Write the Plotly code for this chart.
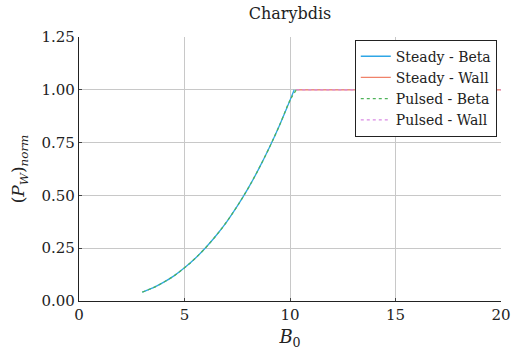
import plotly.graph_objects as go

# Data
beta_B = [3.0, 3.5, 4.0, 4.5, 5.0, 5.5, 6.0, 6.5, 7.0, 7.5, 8.0, 8.5, 9.0, 9.5, 10.0, 10.2]
beta_P = [0.042, 0.062, 0.088, 0.119, 0.157, 0.201, 0.252, 0.310, 0.375, 0.449, 0.531, 0.622, 0.722, 0.831, 0.950, 1.000]
pulsed_beta_B = [3.0, 3.5, 4.0, 4.5, 5.0, 5.5, 6.0, 6.5, 7.0, 7.5, 8.0, 8.5, 9.0, 9.5, 10.0, 10.3]
pulsed_beta_P = [0.042, 0.062, 0.088, 0.119, 0.157, 0.201, 0.252, 0.310, 0.375, 0.449, 0.531, 0.622, 0.722, 0.831, 0.950, 1.000]
wall_B = [10.3, 12.0, 14.0, 16.0, 18.0, 20.0]
wall_P = [1.0, 1.0, 1.0, 1.0, 1.0, 1.0]

x_ticks = [0, 5, 10, 15, 20]
y_ticks = [0.0, 0.25, 0.5, 0.75, 1.0, 1.25]
y_tick_labels = ["0.00", "0.25", "0.50", "0.75", "1.00", "1.25"]

FONT = "DejaVu Serif, Liberation Serif, serif"
TXT = "#222222"

fig = go.Figure()
fig.add_trace(go.Scatter(x=beta_B, y=beta_P, mode="lines", name="Steady - Beta",
                         line=dict(color="#2ea6e6", width=1.3, shape="spline")))
fig.add_trace(go.Scatter(x=wall_B, y=wall_P, mode="lines", name="Steady - Wall",
                         line=dict(color="#f0826a", width=1.3)))
fig.add_trace(go.Scatter(x=pulsed_beta_B, y=pulsed_beta_P, mode="lines", name="Pulsed - Beta",
                         line=dict(color="#4fb35a", width=1.3, dash="3px,3px", shape="spline")))
fig.add_trace(go.Scatter(x=wall_B, y=wall_P, mode="lines", name="Pulsed - Wall",
                         line=dict(color="#d98be3", width=1.3, dash="3px,3px")))

axis_common = dict(
    showgrid=True, gridcolor="#c8c8c8", gridwidth=1,
    zeroline=False, showline=True, linecolor="#222222", linewidth=1.2,
    ticks="inside", ticklen=3, tickcolor="#444444",
    tickfont=dict(family=FONT, size=15, color=TXT),
    automargin=False,
)

fig.update_layout(
    width=513, height=354,
    margin=dict(l=79, r=12, t=37, b=53),
    paper_bgcolor="white", plot_bgcolor="white",
    font=dict(family=FONT, color=TXT),
    title=dict(text="Charybdis", x=0.5, xref="paper", xanchor="center",
               y=0.962, yref="container", yanchor="middle",
               font=dict(family=FONT, size=16, color=TXT)),
    xaxis=dict(range=[0, 20], tickvals=x_ticks, ticktext=[str(v) for v in x_ticks],
               title=dict(text="<i>B</i><sub>0</sub>", font=dict(family=FONT, size=18), standoff=7),
               **axis_common),
    yaxis=dict(range=[0, 1.25], tickvals=y_ticks, ticktext=y_tick_labels,
               title=dict(text="(<i>P</i><sub><i>W</i></sub>)<sub><i>norm</i></sub>",
                          font=dict(family=FONT, size=17), standoff=12),
               **axis_common),
    legend=dict(x=0.99, y=0.99, xanchor="right", yanchor="top",
                bgcolor="white", bordercolor="#222222", borderwidth=1,
                font=dict(family=FONT, size=14, color=TXT),
                itemwidth=30, tracegroupgap=0),
    showlegend=True,
)

fig.write_html(
    "out.html",
    config={"displayModeBar": False},
    post_script="document.body.style.margin='0';document.body.style.overflow='hidden';",
)
